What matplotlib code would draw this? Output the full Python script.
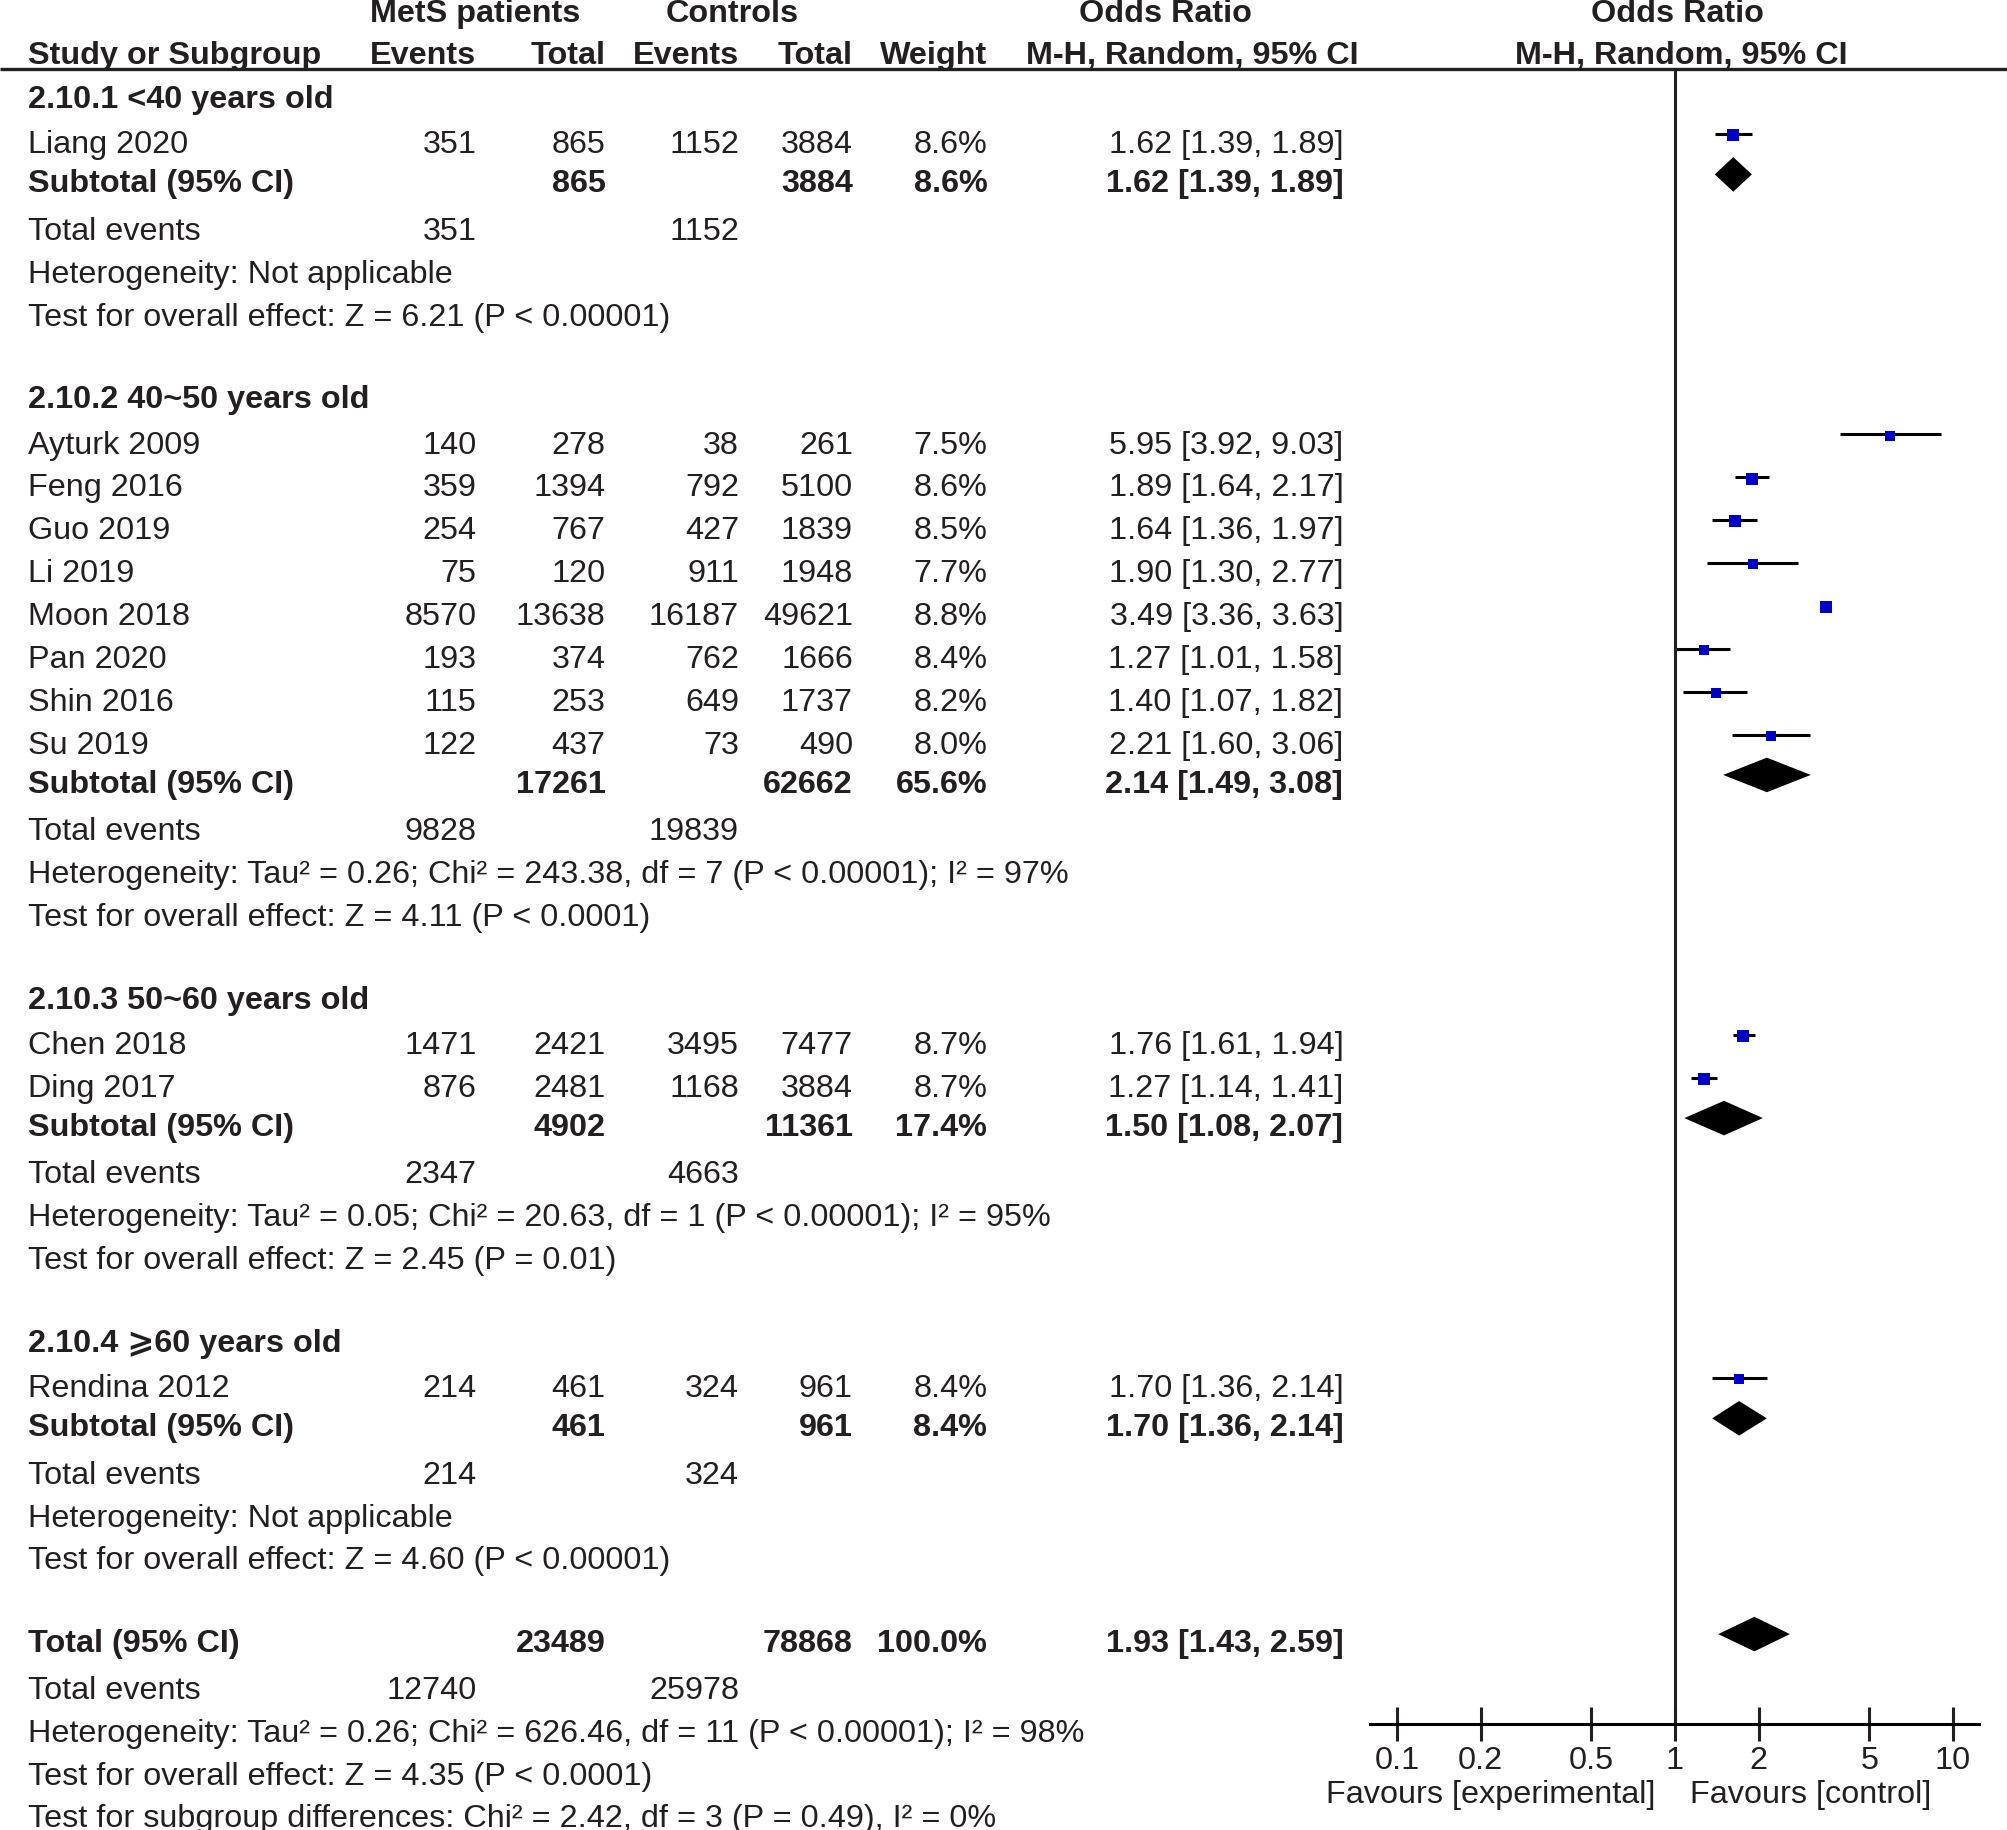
import numpy as np
import matplotlib
matplotlib.use('Agg')
import matplotlib.pyplot as plt
from matplotlib.ticker import NullLocator

plt.rcParams['font.family'] = ['Liberation Sans', 'DejaVu Sans']

# study level data
groups = ['2.10.1 <40 years old', '2.10.2 40~50 years old',
          '2.10.3 50~60 years old', '2.10.4 \u2a7e60 years old']
study_group = [0, 1, 1, 1, 1, 1, 1, 1, 1, 2, 2, 3]
studies = ['Liang 2020', 'Ayturk 2009', 'Feng 2016', 'Guo 2019', 'Li 2019',
           'Moon 2018', 'Pan 2020', 'Shin 2016', 'Su 2019',
           'Chen 2018', 'Ding 2017', 'Rendina 2012']
ev_mets = [351, 140, 359, 254, 75, 8570, 193, 115, 122, 1471, 876, 214]
tot_mets = [865, 278, 1394, 767, 120, 13638, 374, 253, 437, 2421, 2481, 461]
ev_ctrl = [1152, 38, 792, 427, 911, 16187, 762, 649, 73, 3495, 1168, 324]
tot_ctrl = [3884, 261, 5100, 1839, 1948, 49621, 1666, 1737, 490, 7477, 3884, 961]
weight = [8.6, 7.5, 8.6, 8.5, 7.7, 8.8, 8.4, 8.2, 8.0, 8.7, 8.7, 8.4]
odds = [1.62, 5.95, 1.89, 1.64, 1.90, 3.49, 1.27, 1.40, 2.21, 1.76, 1.27, 1.70]
ci_lo = [1.39, 3.92, 1.64, 1.36, 1.30, 3.36, 1.01, 1.07, 1.60, 1.61, 1.14, 1.36]
ci_hi = [1.89, 9.03, 2.17, 1.97, 2.77, 3.63, 1.58, 1.82, 3.06, 1.94, 1.41, 2.14]

# subgroup summaries
sub_tot_mets = [865, 17261, 4902, 461]
sub_tot_ctrl = [3884, 62662, 11361, 961]
sub_weight = [8.6, 65.6, 17.4, 8.4]
sub_or = [1.62, 2.14, 1.50, 1.70]
sub_lo = [1.39, 1.49, 1.08, 1.36]
sub_hi = [1.89, 3.08, 2.07, 2.14]
sub_ev_mets = [351, 9828, 2347, 214]
sub_ev_ctrl = [1152, 19839, 4663, 324]
sub_het = ['Heterogeneity: Not applicable',
           'Heterogeneity: Tau\u00b2 = 0.26; Chi\u00b2 = 243.38, df = 7 (P < 0.00001); I\u00b2 = 97%',
           'Heterogeneity: Tau\u00b2 = 0.05; Chi\u00b2 = 20.63, df = 1 (P < 0.00001); I\u00b2 = 95%',
           'Heterogeneity: Not applicable']
sub_test = ['Test for overall effect: Z = 6.21 (P < 0.00001)',
            'Test for overall effect: Z = 4.11 (P < 0.0001)',
            'Test for overall effect: Z = 2.45 (P = 0.01)',
            'Test for overall effect: Z = 4.60 (P < 0.00001)']

# overall
total_mets, total_ctrl, total_weight = 23489, 78868, 100.0
total_or, total_lo, total_hi = 1.93, 1.43, 2.59
total_ev_mets, total_ev_ctrl = 12740, 25978
total_het = 'Heterogeneity: Tau\u00b2 = 0.26; Chi\u00b2 = 626.46, df = 11 (P < 0.00001); I\u00b2 = 98%'
total_test = 'Test for overall effect: Z = 4.35 (P < 0.0001)'
subgroup_test = 'Test for subgroup differences: Chi\u00b2 = 2.42, df = 3 (P = 0.49), I\u00b2 = 0%'

ticks = [0.1, 0.2, 0.5, 1, 2, 5, 10]
tick_labels = ['0.1', '0.2', '0.5', '1', '2', '5', '10']

# layout (in units of a 1568 x 1430 canvas)
W, H = 1568, 1430
FS = 23.3
TXT = '#231f20'
col_ev1, col_tot1, col_ev2, col_tot2, col_w, col_or = 372, 473, 577, 666, 771, 1049
x_left, x_right, x_one, decade = 1070, 1545, 1308, 217
axis_y = 1347
moff = -7

fig = plt.figure(figsize=(20.08, 18.31), dpi=100)
ax = fig.add_axes([0, 0, 1, 1])
ax.set_xlim(0, W)
ax.set_ylim(H, 0)
ax.axis('off')

ax2 = fig.add_axes([x_left / W, 0, (x_right - x_left) / W, 1])
ax2.set_xscale('log')
ax2.set_xlim(10 ** ((x_left - x_one) / decade), 10 ** ((x_right - x_one) / decade))
ax2.set_ylim(H, 0)
ax2.patch.set_alpha(0)
for s in ['top', 'left', 'right']:
    ax2.spines[s].set_visible(False)
ax2.spines['bottom'].set_position(('data', axis_y))
ax2.spines['bottom'].set_linewidth(2.2)
ax2.set_yticks([])
ax2.set_xticks(ticks)
ax2.set_xticklabels(tick_labels)
ax2.xaxis.set_minor_locator(NullLocator())
ax2.tick_params(axis='x', direction='inout', length=24, width=2.2,
                labelsize=FS, pad=3, colors=TXT)


def txt(x, y, s, ha='left', bold=False):
    ax.text(x, y, s, ha=ha, va='center', fontsize=FS, color=TXT,
            fontweight='bold' if bold else 'normal')


def diamond(y, o, lo, hi):
    h = 13.5
    ax2.fill([lo, o, hi, o], [y, y - h, y, y + h], color='black', lw=0)


# header
ax.text(371, 11, 'MetS patients', ha='center', va='center', fontsize=FS, fontweight='bold', color=TXT)
ax.text(572, 11, 'Controls', ha='center', va='center', fontsize=FS, fontweight='bold', color=TXT)
ax.text(910, 11, 'Odds Ratio', ha='center', va='center', fontsize=FS, fontweight='bold', color=TXT)
ax.text(1310, 11, 'Odds Ratio', ha='center', va='center', fontsize=FS, fontweight='bold', color=TXT)
txt(22, 44, 'Study or Subgroup', bold=True)
txt(col_ev1, 44, 'Events', 'right', True)
txt(col_tot1, 44, 'Total', 'right', True)
txt(col_ev2, 44, 'Events', 'right', True)
txt(col_tot2, 44, 'Total', 'right', True)
txt(col_w, 44, 'Weight', 'right', True)
ax.text(931, 44, 'M-H, Random, 95% CI', ha='center', va='center', fontsize=FS, fontweight='bold', color=TXT)
ax.text(1313, 44, 'M-H, Random, 95% CI', ha='center', va='center', fontsize=FS, fontweight='bold', color=TXT)
ax.plot([0, W], [55, 55], color=TXT, lw=2.4, solid_capstyle='butt')

y = 78
for g, gname in enumerate(groups):
    txt(22, y, gname, bold=True)
    y += 35.5
    first = True
    for i in range(len(studies)):
        if study_group[i] != g:
            continue
        if not first:
            y += 33.5
        first = False
        txt(22, y, studies[i])
        txt(col_ev1, y, str(ev_mets[i]), 'right')
        txt(col_tot1, y, str(tot_mets[i]), 'right')
        txt(col_ev2, y, str(ev_ctrl[i]), 'right')
        txt(col_tot2, y, str(tot_ctrl[i]), 'right')
        txt(col_w, y, f'{weight[i]:.1f}%', 'right')
        txt(col_or, y, f'{odds[i]:.2f} [{ci_lo[i]:.2f}, {ci_hi[i]:.2f}]', 'right')
        ax2.plot([ci_lo[i], ci_hi[i]], [y + moff - 1, y + moff - 1], color='black', lw=2.2,
                 solid_capstyle='butt')
        ax2.plot(odds[i], y + moff, marker='s', color='#0000c8', ms=8 * np.sqrt(weight[i] / 8.6),
                 mew=0, ls='none')
    y += 30.5
    txt(22, y, 'Subtotal (95% CI)', bold=True)
    txt(col_tot1, y, str(sub_tot_mets[g]), 'right', True)
    txt(col_tot2, y, str(sub_tot_ctrl[g]), 'right', True)
    txt(col_w, y, f'{sub_weight[g]:.1f}%', 'right', True)
    txt(col_or, y, f'{sub_or[g]:.2f} [{sub_lo[g]:.2f}, {sub_hi[g]:.2f}]', 'right', True)
    diamond(y + moff, sub_or[g], sub_lo[g], sub_hi[g])
    y += 37
    txt(22, y, 'Total events')
    txt(col_ev1, y, str(sub_ev_mets[g]), 'right')
    txt(col_ev2, y, str(sub_ev_ctrl[g]), 'right')
    y += 33.5
    txt(22, y, sub_het[g])
    y += 33.5
    txt(22, y, sub_test[g])
    y += 64.5

txt(22, y, 'Total (95% CI)', bold=True)
txt(col_tot1, y, str(total_mets), 'right', True)
txt(col_tot2, y, str(total_ctrl), 'right', True)
txt(col_w, y, f'{total_weight:.1f}%', 'right', True)
txt(col_or, y, f'{total_or:.2f} [{total_lo:.2f}, {total_hi:.2f}]', 'right', True)
diamond(y + moff, total_or, total_lo, total_hi)
y += 37
txt(22, y, 'Total events')
txt(col_ev1, y, str(total_ev_mets), 'right')
txt(col_ev2, y, str(total_ev_ctrl), 'right')
y += 33.5
txt(22, y, total_het)
y += 33.5
txt(22, y, total_test)
y += 32.5
txt(22, y, subgroup_test)

# null line
ax2.plot([1, 1], [55, axis_y], color=TXT, lw=2.2)

txt(1293, 1402, 'Favours [experimental]', 'right')
txt(1320, 1402, 'Favours [control]')

fig.savefig('out.png', dpi=100)
